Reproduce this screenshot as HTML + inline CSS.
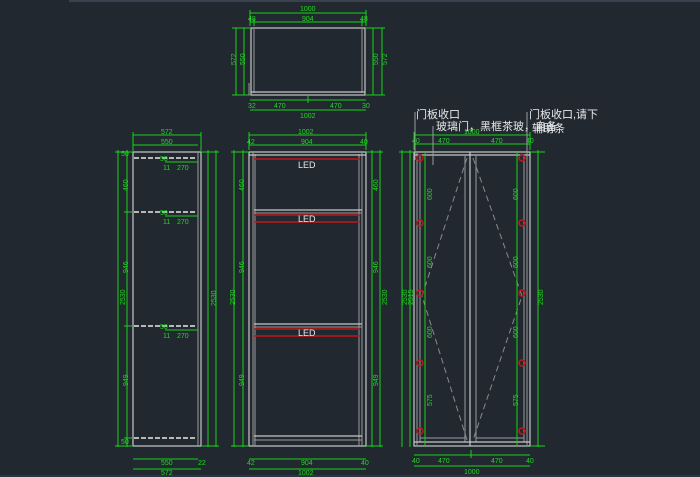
<!DOCTYPE html>
<html><head><meta charset="utf-8"><style>
html,body{margin:0;padding:0;background:#212830;}
svg{display:block}
text{font-family:"Liberation Sans","Noto Sans CJK SC",sans-serif;}
.g{stroke:#19d219;stroke-width:1;fill:none}
.w{stroke:#c8c8c8;stroke-width:1.2;fill:none}
.w2{stroke:#9a9a9a;stroke-width:1;fill:none}
.r{stroke:#c01818;stroke-width:1.5;fill:none}
.gt{fill:#22d822;font-size:7px}
.wt{fill:#e8e8e8;font-size:11px}
</style></head><body>
<svg width="700" height="477" viewBox="0 0 700 477" xmlns="http://www.w3.org/2000/svg">
<rect x="0" y="0" width="700" height="477" fill="#212830"/>
<rect x="69" y="0" width="631" height="2" fill="#3a4250"/>
<rect x="0" y="475" width="700" height="2" fill="#2c3440"/>

<!-- TOP VIEW -->
<g>
<rect class="w" x="251" y="28" width="114" height="67"/>
<line class="w2" x1="254" y1="29" x2="254" y2="93"/>
<line class="w2" x1="362" y1="29" x2="362" y2="93"/>
<line class="w" x1="251" y1="92" x2="365" y2="92"/>
<line class="w2" x1="249" y1="83" x2="249" y2="95"/>
<line class="g" x1="250" y1="13" x2="366" y2="13"/><line class="g" x1="250" y1="10" x2="250" y2="26"/><line class="g" x1="366" y1="10" x2="366" y2="26"/>
<text class="gt" x="300" y="11">1000</text>
<line class="g" x1="250" y1="22" x2="366" y2="22"/><line class="g" x1="254" y1="19" x2="254" y2="26"/><line class="g" x1="362" y1="19" x2="362" y2="26"/>
<text class="gt" x="302" y="21">904</text><text class="gt" x="248" y="21">48</text><text class="gt" x="360" y="21">48</text>
<line class="g" x1="250" y1="100" x2="366" y2="100"/><line class="g" x1="308" y1="96" x2="308" y2="103"/>
<text class="gt" x="274" y="108">470</text><text class="gt" x="330" y="108">470</text><text class="gt" x="248" y="108">32</text><text class="gt" x="362" y="108">30</text>
<line class="g" x1="250" y1="110" x2="366" y2="110"/>
<text class="gt" x="300" y="118">1002</text>
<line class="g" x1="236" y1="28" x2="236" y2="95"/><line class="g" x1="244" y1="28" x2="244" y2="95"/>
<line class="g" x1="232" y1="28" x2="250" y2="28"/><line class="g" x1="232" y1="95" x2="250" y2="95"/>
<text class="gt" x="229" y="66" transform="rotate(-90 232 62)">572</text><text class="gt" x="238" y="66" transform="rotate(-90 241 62)">550</text>
<line class="g" x1="373" y1="28" x2="373" y2="95"/><line class="g" x1="382" y1="28" x2="382" y2="95"/>
<line class="g" x1="366" y1="28" x2="385" y2="28"/><line class="g" x1="366" y1="95" x2="385" y2="95"/>
<text class="gt" x="371" y="66" transform="rotate(-90 374 62)">550</text><text class="gt" x="380" y="66" transform="rotate(-90 383 62)">572</text>
</g>

<!-- LEFT SIDE VIEW -->
<g>
<rect class="w" x="133" y="152" width="68" height="294"/>
<line class="w2" x1="198" y1="152" x2="198" y2="446"/>
<g stroke="#b8b8b8" stroke-width="2" stroke-dasharray="5,2">
<line x1="134" y1="158" x2="197" y2="158"/><line x1="134" y1="212" x2="197" y2="212"/><line x1="134" y1="326" x2="197" y2="326"/><line x1="134" y1="438" x2="197" y2="438"/>
</g>
<line class="g" x1="133" y1="135" x2="201" y2="135"/><line class="g" x1="133" y1="132" x2="133" y2="152"/><line class="g" x1="201" y1="132" x2="201" y2="152"/>
<text class="gt" x="161" y="134">572</text>
<line class="g" x1="133" y1="145" x2="198" y2="145"/><text class="gt" x="161" y="144">550</text>
<line class="g" x1="133" y1="459" x2="198" y2="459"/><text class="gt" x="161" y="465">550</text><text class="gt" x="198" y="465">22</text>
<line class="g" x1="133" y1="469" x2="201" y2="469"/><text class="gt" x="161" y="475">572</text>
<line class="g" x1="118" y1="150" x2="118" y2="447"/><line class="g" x1="127" y1="150" x2="127" y2="447"/>
<line class="g" x1="115" y1="152" x2="133" y2="152"/><line class="g" x1="115" y1="446" x2="133" y2="446"/>
<line class="g" x1="124" y1="212" x2="132" y2="212"/><line class="g" x1="124" y1="326" x2="132" y2="326"/><line class="g" x1="124" y1="438" x2="132" y2="438"/>
<text class="gt" x="112" y="308" transform="rotate(-90 117 300)">2530</text>
<text class="gt" x="119" y="190" transform="rotate(-90 124 186)">460</text>
<text class="gt" x="119" y="272" transform="rotate(-90 124 268)">946</text>
<text class="gt" x="119" y="385" transform="rotate(-90 124 381)">949</text>
<text class="gt" x="121" y="156">50</text><text class="gt" x="121" y="444">50</text>
<line class="g" x1="208" y1="150" x2="208" y2="447"/><line class="g" x1="216" y1="150" x2="216" y2="447"/>
<line class="g" x1="202" y1="152" x2="219" y2="152"/><line class="g" x1="202" y1="446" x2="219" y2="446"/>
<text class="gt" x="206" y="304" transform="rotate(-90 212 300)">2530</text>
<g class="gt"><text x="160" y="161">50</text><text x="160" y="215">50</text><text x="160" y="329">50</text>
<text x="163" y="170">11</text><text x="177" y="170">270</text><text x="163" y="224">11</text><text x="177" y="224">270</text><text x="163" y="338">11</text><text x="177" y="338">270</text></g>
<line class="g" x1="165" y1="162" x2="198" y2="162"/><line class="g" x1="165" y1="216" x2="198" y2="216"/><line class="g" x1="165" y1="330" x2="198" y2="330"/>
</g>

<!-- MIDDLE FRONT VIEW -->
<g>
<rect class="w" x="249" y="152" width="117" height="294"/>
<line class="w2" x1="253" y1="152" x2="253" y2="446"/><line class="w2" x1="255" y1="154" x2="255" y2="446"/>
<line class="w2" x1="359" y1="154" x2="359" y2="446"/><line class="w2" x1="362" y1="152" x2="362" y2="446"/>
<line class="w" x1="249" y1="155" x2="366" y2="155"/>
<line class="w" x1="254" y1="210" x2="362" y2="210"/><line class="w2" x1="254" y1="213" x2="362" y2="213"/>
<line class="w" x1="254" y1="324" x2="362" y2="324"/><line class="w2" x1="254" y1="327" x2="362" y2="327"/>
<line class="w" x1="254" y1="436" x2="362" y2="436"/><line class="w2" x1="254" y1="440" x2="362" y2="440"/>
<line class="r" x1="254" y1="159" x2="360" y2="159"/>
<line class="r" x1="254" y1="215" x2="360" y2="215"/><line class="r" x1="254" y1="222" x2="360" y2="222"/>
<line class="r" x1="254" y1="329" x2="360" y2="329"/><line class="r" x1="254" y1="336" x2="360" y2="336"/>
<text class="wt" x="298" y="168" style="font-size:9px">LED</text>
<text class="wt" x="298" y="222" style="font-size:9px">LED</text>
<text class="wt" x="298" y="336" style="font-size:9px">LED</text>
<line class="g" x1="249" y1="135" x2="366" y2="135"/><line class="g" x1="249" y1="132" x2="249" y2="150"/><line class="g" x1="366" y1="132" x2="366" y2="150"/>
<text class="gt" x="298" y="134">1002</text>
<line class="g" x1="249" y1="145" x2="366" y2="145"/><text class="gt" x="301" y="144">904</text><text class="gt" x="247" y="144">42</text><text class="gt" x="360" y="144">40</text>
<line class="g" x1="249" y1="459" x2="366" y2="459"/><text class="gt" x="301" y="465">904</text><text class="gt" x="247" y="465">42</text><text class="gt" x="361" y="465">40</text>
<line class="g" x1="249" y1="469" x2="366" y2="469"/><text class="gt" x="298" y="475">1002</text>
<line class="g" x1="234" y1="150" x2="234" y2="447"/><line class="g" x1="243" y1="150" x2="243" y2="447"/>
<line class="g" x1="231" y1="152" x2="249" y2="152"/><line class="g" x1="231" y1="446" x2="249" y2="446"/>
<text class="gt" x="235" y="190" transform="rotate(-90 240 186)">460</text>
<text class="gt" x="235" y="272" transform="rotate(-90 240 268)">946</text>
<text class="gt" x="235" y="385" transform="rotate(-90 240 381)">949</text>
<text class="gt" x="226" y="304" transform="rotate(-90 231 300)">2530</text>
<line class="g" x1="372" y1="150" x2="372" y2="447"/><line class="g" x1="380" y1="150" x2="380" y2="447"/>
<line class="g" x1="366" y1="152" x2="383" y2="152"/><line class="g" x1="366" y1="446" x2="383" y2="446"/>
<text class="gt" x="369" y="190" transform="rotate(-90 374 186)">460</text>
<text class="gt" x="369" y="272" transform="rotate(-90 374 268)">946</text>
<text class="gt" x="369" y="385" transform="rotate(-90 374 381)">949</text>
<text class="gt" x="378" y="304" transform="rotate(-90 383 300)">2530</text>
</g>

<!-- RIGHT DOOR VIEW -->
<g>
<rect class="w" x="414" y="152" width="116" height="294"/>
<line class="w2" x1="417" y1="153" x2="417" y2="445"/><line class="w2" x1="420" y1="156" x2="420" y2="442"/>
<line class="w2" x1="465" y1="156" x2="465" y2="442"/><line class="w" x1="470" y1="152" x2="470" y2="446"/><line class="w2" x1="476" y1="156" x2="476" y2="442"/>
<line class="w2" x1="524" y1="156" x2="524" y2="442"/><line class="w2" x1="527" y1="153" x2="527" y2="445"/>
<line class="w" x1="414" y1="155" x2="530" y2="155"/><line class="w" x1="414" y1="442" x2="530" y2="442"/>
<line class="w2" x1="420" y1="438" x2="465" y2="438"/><line class="w2" x1="476" y1="438" x2="524" y2="438"/>
<g stroke="#8a8a8a" stroke-width="1" stroke-dasharray="6,4" fill="none">
<polyline points="467,158 422,296 467,440"/><polyline points="473,158 522,296 473,440"/>
</g>
<g class="r" stroke-width="1"><circle cx="420" cy="158" r="3"/><circle cx="420" cy="223" r="3"/><circle cx="420" cy="293" r="3"/><circle cx="420" cy="363" r="3"/><circle cx="420" cy="431" r="3"/>
<circle cx="522" cy="158" r="3"/><circle cx="522" cy="223" r="3"/><circle cx="522" cy="293" r="3"/><circle cx="522" cy="363" r="3"/><circle cx="522" cy="431" r="3"/></g>
<line class="g" x1="425" y1="152" x2="425" y2="446"/><line class="g" x1="517" y1="152" x2="517" y2="446"/>
<line class="g" x1="402" y1="150" x2="402" y2="447"/><line class="g" x1="410" y1="150" x2="410" y2="447"/>
<line class="g" x1="538" y1="150" x2="538" y2="447"/>
<line class="g" x1="399" y1="152" x2="414" y2="152"/><line class="g" x1="530" y1="152" x2="545" y2="152"/><line class="g" x1="530" y1="446" x2="545" y2="446"/>
<text class="gt" x="398" y="304" transform="rotate(-90 403 300)">2530</text>
<text class="gt" x="404" y="304" transform="rotate(-90 409 300)">2515</text>
<text class="gt" x="534" y="304" transform="rotate(-90 539 300)">2530</text>
<g class="gt">
<text x="422" y="198" transform="rotate(-90 428 194)">600</text><text x="422" y="266" transform="rotate(-90 428 262)">600</text>
<text x="422" y="336" transform="rotate(-90 428 332)">600</text><text x="422" y="404" transform="rotate(-90 428 400)">575</text>
<text x="508" y="198" transform="rotate(-90 514 194)">600</text><text x="508" y="266" transform="rotate(-90 514 262)">600</text>
<text x="508" y="336" transform="rotate(-90 514 332)">600</text><text x="508" y="404" transform="rotate(-90 514 400)">575</text>
</g>
<line class="g" x1="414" y1="135" x2="530" y2="135"/><line class="g" x1="414" y1="132" x2="414" y2="150"/><line class="g" x1="530" y1="132" x2="530" y2="150"/>
<text class="gt" x="464" y="134">1000</text>
<line class="g" x1="414" y1="144" x2="530" y2="144"/><text class="gt" x="438" y="143">470</text><text class="gt" x="491" y="143">470</text><text class="gt" x="412" y="143">40</text><text class="gt" x="526" y="143">40</text>
<line class="g" x1="414" y1="455" x2="530" y2="455"/><line class="g" x1="471" y1="450" x2="471" y2="458"/>
<text class="gt" x="438" y="463">470</text><text class="gt" x="491" y="463">470</text><text class="gt" x="412" y="463">40</text><text class="gt" x="526" y="463">40</text>
<line class="g" x1="414" y1="466" x2="530" y2="466"/><text class="gt" x="464" y="474">1000</text>
<line class="w2" x1="415" y1="112" x2="415" y2="160"/><line class="w2" x1="433" y1="126" x2="433" y2="165"/><line class="w2" x1="527" y1="112" x2="527" y2="160"/>
<text class="wt" x="416" y="118">门板收口</text>
<text class="wt" x="436" y="130">玻璃门，黑框茶玻，自备</text>
<text class="wt" x="529" y="118">门板收口,请下</text>
<text class="wt" x="532" y="132">辅助条</text>
</g>
</svg>
</body></html>
